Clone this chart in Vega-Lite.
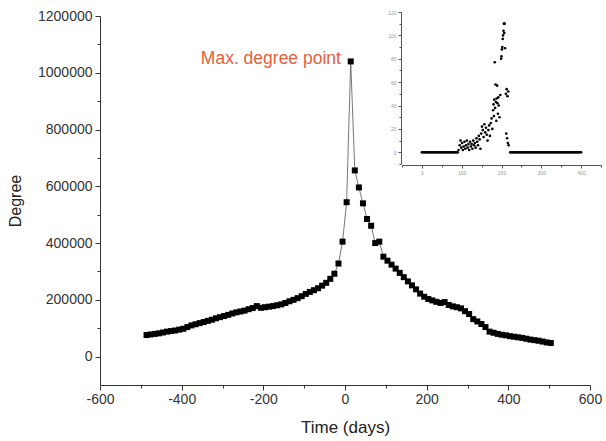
{
  "$schema": "https://vega.github.io/schema/vega-lite/v6.json",
  "width": 490,
  "height": 369,
  "autosize": "none",
  "padding": {"left": 100, "top": 16, "right": 16, "bottom": 56},
  "background": "white",
  "config": {"view": {"stroke": null}, "font": "Liberation Sans"},
  "datasets": {
    "main": [
      {"t": -486, "deg": 76000}, {"t": -476, "deg": 78000}, {"t": -466, "deg": 80000}, {"t": -456, "deg": 82000},
      {"t": -446, "deg": 85000}, {"t": -436, "deg": 88000}, {"t": -426, "deg": 90000}, {"t": -416, "deg": 92000},
      {"t": -406, "deg": 95000}, {"t": -396, "deg": 98000}, {"t": -386, "deg": 104000}, {"t": -376, "deg": 110000},
      {"t": -366, "deg": 114000}, {"t": -356, "deg": 118000}, {"t": -346, "deg": 122000}, {"t": -336, "deg": 126000},
      {"t": -326, "deg": 130000}, {"t": -316, "deg": 135000}, {"t": -306, "deg": 139000}, {"t": -296, "deg": 143000},
      {"t": -286, "deg": 147000}, {"t": -276, "deg": 152000}, {"t": -266, "deg": 156000}, {"t": -256, "deg": 159000},
      {"t": -246, "deg": 162000}, {"t": -236, "deg": 167000}, {"t": -226, "deg": 171000}, {"t": -216, "deg": 178000},
      {"t": -206, "deg": 172000}, {"t": -196, "deg": 174000}, {"t": -186, "deg": 176000}, {"t": -176, "deg": 178000},
      {"t": -166, "deg": 181000}, {"t": -156, "deg": 184000}, {"t": -146, "deg": 189000}, {"t": -136, "deg": 195000},
      {"t": -126, "deg": 200000}, {"t": -116, "deg": 206000}, {"t": -106, "deg": 213000}, {"t": -96, "deg": 221000},
      {"t": -86, "deg": 228000}, {"t": -76, "deg": 234000}, {"t": -66, "deg": 241000}, {"t": -56, "deg": 250000},
      {"t": -46, "deg": 260000}, {"t": -36, "deg": 274000}, {"t": -26, "deg": 292000}, {"t": -16, "deg": 328000},
      {"t": -6, "deg": 405000}, {"t": 4, "deg": 544000}, {"t": 14, "deg": 1040000}, {"t": 24, "deg": 656000},
      {"t": 34, "deg": 596000}, {"t": 44, "deg": 540000}, {"t": 54, "deg": 485000}, {"t": 64, "deg": 461000},
      {"t": 74, "deg": 400000}, {"t": 84, "deg": 405000}, {"t": 94, "deg": 352000}, {"t": 104, "deg": 338000},
      {"t": 114, "deg": 324000}, {"t": 124, "deg": 310000}, {"t": 134, "deg": 295000}, {"t": 144, "deg": 280000},
      {"t": 154, "deg": 265000}, {"t": 164, "deg": 251000}, {"t": 174, "deg": 237000}, {"t": 184, "deg": 222000},
      {"t": 194, "deg": 211000}, {"t": 204, "deg": 203000}, {"t": 214, "deg": 198000}, {"t": 224, "deg": 193000},
      {"t": 234, "deg": 189000}, {"t": 244, "deg": 192000}, {"t": 254, "deg": 182000}, {"t": 264, "deg": 177000},
      {"t": 274, "deg": 174000}, {"t": 284, "deg": 170000}, {"t": 294, "deg": 160000}, {"t": 304, "deg": 150000},
      {"t": 314, "deg": 132000}, {"t": 324, "deg": 124000}, {"t": 334, "deg": 115000}, {"t": 344, "deg": 104000},
      {"t": 354, "deg": 88000}, {"t": 364, "deg": 84000}, {"t": 374, "deg": 80000}, {"t": 384, "deg": 77000},
      {"t": 394, "deg": 75000}, {"t": 404, "deg": 72000}, {"t": 414, "deg": 70000}, {"t": 424, "deg": 68000},
      {"t": 434, "deg": 66000}, {"t": 444, "deg": 63000}, {"t": 454, "deg": 60000}, {"t": 464, "deg": 58000},
      {"t": 474, "deg": 56000}, {"t": 484, "deg": 53000}, {"t": 494, "deg": 50000}, {"t": 504, "deg": 48000}
    ],
    "note": [{"t": -10, "deg": 1050000, "label": "Max. degree point"}],
    "inset": [
      {"day": 0, "v": 0}, {"day": 3, "v": 0}, {"day": 6, "v": 0}, {"day": 9, "v": 0}, {"day": 12, "v": 0},
      {"day": 15, "v": 0}, {"day": 18, "v": 0}, {"day": 21, "v": 0}, {"day": 24, "v": 0}, {"day": 27, "v": 0},
      {"day": 30, "v": 0}, {"day": 33, "v": 0}, {"day": 36, "v": 0}, {"day": 39, "v": 0}, {"day": 42, "v": 0},
      {"day": 45, "v": 0}, {"day": 48, "v": 0}, {"day": 51, "v": 0}, {"day": 54, "v": 0}, {"day": 57, "v": 0},
      {"day": 60, "v": 0}, {"day": 63, "v": 0}, {"day": 66, "v": 0}, {"day": 69, "v": 0}, {"day": 72, "v": 0},
      {"day": 75, "v": 0}, {"day": 78, "v": 0}, {"day": 81, "v": 0}, {"day": 84, "v": 0}, {"day": 87, "v": 0},
      {"day": 90, "v": 0},
      {"day": 92, "v": 2}, {"day": 95, "v": 6}, {"day": 97, "v": 10}, {"day": 99, "v": 4}, {"day": 101, "v": 8},
      {"day": 103, "v": 2}, {"day": 105, "v": 5}, {"day": 107, "v": 9}, {"day": 109, "v": 3}, {"day": 111, "v": 6},
      {"day": 113, "v": 10}, {"day": 115, "v": 4}, {"day": 117, "v": 7}, {"day": 119, "v": 2}, {"day": 121, "v": 9},
      {"day": 123, "v": 5}, {"day": 125, "v": 7}, {"day": 127, "v": 3}, {"day": 129, "v": 10}, {"day": 131, "v": 6},
      {"day": 133, "v": 8}, {"day": 135, "v": 4}, {"day": 137, "v": 12}, {"day": 139, "v": 9}, {"day": 141, "v": 6},
      {"day": 143, "v": 14}, {"day": 145, "v": 11}, {"day": 147, "v": 3}, {"day": 149, "v": 16}, {"day": 151, "v": 22},
      {"day": 153, "v": 19}, {"day": 155, "v": 13}, {"day": 157, "v": 24}, {"day": 159, "v": 17}, {"day": 161, "v": 21},
      {"day": 163, "v": 15}, {"day": 165, "v": 10}, {"day": 167, "v": 19}, {"day": 169, "v": 23}, {"day": 171, "v": 14},
      {"day": 173, "v": 25}, {"day": 175, "v": 29}, {"day": 177, "v": 20}, {"day": 179, "v": 36}, {"day": 180, "v": 41},
      {"day": 181, "v": 31}, {"day": 182, "v": 45}, {"day": 183, "v": 77}, {"day": 184, "v": 38}, {"day": 185, "v": 58},
      {"day": 186, "v": 43}, {"day": 187, "v": 27}, {"day": 188, "v": 46}, {"day": 189, "v": 57}, {"day": 190, "v": 42},
      {"day": 191, "v": 33}, {"day": 192, "v": 47}, {"day": 193, "v": 40}, {"day": 195, "v": 30}, {"day": 197, "v": 49},
      {"day": 199, "v": 80}, {"day": 200, "v": 82}, {"day": 201, "v": 88}, {"day": 202, "v": 90}, {"day": 203, "v": 97},
      {"day": 204, "v": 100}, {"day": 205, "v": 104}, {"day": 206, "v": 110}, {"day": 207, "v": 102}, {"day": 208, "v": 110},
      {"day": 209, "v": 89}, {"day": 211, "v": 50}, {"day": 212, "v": 16}, {"day": 213, "v": 54}, {"day": 214, "v": 12},
      {"day": 215, "v": 48}, {"day": 216, "v": 8}, {"day": 217, "v": 52}, {"day": 218, "v": 6},
      {"day": 222, "v": 0}, {"day": 225, "v": 0}, {"day": 228, "v": 0}, {"day": 231, "v": 0}, {"day": 234, "v": 0},
      {"day": 237, "v": 0}, {"day": 240, "v": 0}, {"day": 243, "v": 0}, {"day": 246, "v": 0}, {"day": 249, "v": 0},
      {"day": 252, "v": 0}, {"day": 255, "v": 0}, {"day": 258, "v": 0}, {"day": 261, "v": 0}, {"day": 264, "v": 0},
      {"day": 267, "v": 0}, {"day": 270, "v": 0}, {"day": 273, "v": 0}, {"day": 276, "v": 0}, {"day": 279, "v": 0},
      {"day": 282, "v": 0}, {"day": 285, "v": 0}, {"day": 288, "v": 0}, {"day": 291, "v": 0}, {"day": 294, "v": 0},
      {"day": 297, "v": 0}, {"day": 300, "v": 0}, {"day": 303, "v": 0}, {"day": 306, "v": 0}, {"day": 309, "v": 0},
      {"day": 312, "v": 0}, {"day": 315, "v": 0}, {"day": 318, "v": 0}, {"day": 321, "v": 0}, {"day": 324, "v": 0},
      {"day": 327, "v": 0}, {"day": 330, "v": 0}, {"day": 333, "v": 0}, {"day": 336, "v": 0}, {"day": 339, "v": 0},
      {"day": 342, "v": 0}, {"day": 345, "v": 0}, {"day": 348, "v": 0}, {"day": 351, "v": 0}, {"day": 354, "v": 0},
      {"day": 357, "v": 0}, {"day": 360, "v": 0}, {"day": 363, "v": 0}, {"day": 366, "v": 0}, {"day": 369, "v": 0},
      {"day": 372, "v": 0}, {"day": 375, "v": 0}, {"day": 378, "v": 0}, {"day": 381, "v": 0}, {"day": 384, "v": 0},
      {"day": 387, "v": 0}, {"day": 390, "v": 0}, {"day": 393, "v": 0}, {"day": 396, "v": 0}, {"day": 400, "v": 0}
    ]
  },
  "layer": [
    {
      "layer": [
        {
          "data": {"name": "main"},
          "mark": {"type": "line", "color": "#555555", "strokeWidth": 0.8},
          "encoding": {
            "x": {
              "field": "t", "type": "quantitative", "title": "Time (days)",
              "scale": {"domain": [-600, 600], "nice": false, "zero": false},
              "axis": {
                "values": [-600, -500, -400, -300, -200, -100, 0, 100, 200, 300, 400, 500, 600],
                "labelExpr": "abs(datum.value / 200 - round(datum.value / 200)) < 0.01 ? '' + datum.value : ''",
                "tickSize": {"condition": {"test": "abs(datum.value / 200 - round(datum.value / 200)) < 0.01", "value": 5}, "value": 3},
                "grid": false, "domainColor": "#333333", "tickColor": "#333333",
                "labelColor": "#333333", "labelFontSize": 14, "labelPadding": 2,
                "labelFlush": false, "labelOverlap": false,
                "titleFontSize": 17, "titleFontWeight": "normal", "titleColor": "#222222", "titlePadding": 13
              }
            },
            "y": {
              "field": "deg", "type": "quantitative", "title": "Degree",
              "scale": {"domain": [-100000, 1200000], "nice": false, "zero": false},
              "axis": {
                "values": [0, 200000, 400000, 600000, 800000, 1000000, 1200000],
                "format": "d",
                "tickSize": 5,
                "grid": false, "domainColor": "#333333", "tickColor": "#333333",
                "labelColor": "#333333", "labelFontSize": 14, "labelPadding": 3,
                "labelFlush": false, "labelOverlap": false,
                "titleFontSize": 16, "titleFontWeight": "normal", "titleColor": "#222222", "titlePadding": 14
              }
            }
          }
        },
        {
          "data": {"name": "main"},
          "mark": {"type": "point", "shape": "square", "filled": true, "color": "#000000", "size": 36, "opacity": 1},
          "encoding": {
            "x": {"field": "t", "type": "quantitative", "title": "Time (days)"},
            "y": {"field": "deg", "type": "quantitative", "title": "Degree"}
          }
        },
        {
          "data": {"name": "note"},
          "mark": {"type": "text", "align": "right", "baseline": "middle", "color": "#e8603c", "fontSize": 17.5},
          "encoding": {
            "x": {"field": "t", "type": "quantitative", "title": "Time (days)"},
            "y": {"field": "deg", "type": "quantitative", "title": "Degree"},
            "text": {"field": "label"}
          }
        }
      ]
    },
    {
      "data": {"name": "note"},
      "mark": {"type": "point", "opacity": 0},
      "encoding": {
        "x": {"field": "t", "type": "quantitative", "axis": null, "scale": {"domain": [-600, 600], "nice": false, "zero": false}},
        "y": {
          "field": "deg", "type": "quantitative",
          "scale": {"domain": [-100000, 1200000], "nice": false, "zero": false},
          "axis": {
            "orient": "left", "title": null, "domain": false, "labels": false, "grid": false,
            "values": [100000, 300000, 500000, 700000, 900000, 1100000],
            "tickSize": 3, "tickColor": "#333333"
          }
        }
      }
    },
    {
      "data": {"name": "inset"},
      "mark": {"type": "circle", "color": "#000000", "size": 7, "opacity": 1},
      "encoding": {
        "x": {
          "field": "day", "type": "quantitative",
          "scale": {"domain": [-50, 450], "range": [302, 501], "nice": false, "zero": false},
          "axis": {
            "orient": "bottom", "offset": -220, "title": null,
            "values": [-50, 0, 50, 100, 150, 200, 250, 300, 350, 400, 450],
            "labelExpr": "abs(datum.value / 100 - round(datum.value / 100)) < 0.01 && datum.value >= 0 && datum.value <= 400 ? '' + datum.value : ''",
            "tickSize": {"condition": {"test": "abs(datum.value / 100 - round(datum.value / 100)) < 0.01", "value": 3}, "value": 2},
            "grid": false, "domainColor": "#555555", "tickColor": "#555555",
            "labelColor": "#999999", "labelFontSize": 5, "labelPadding": 2,
            "labelFlush": false, "labelOverlap": false
          }
        },
        "y": {
          "field": "v", "type": "quantitative",
          "scale": {"domain": [-10, 120], "range": [148, -4], "nice": false, "zero": false},
          "axis": {
            "orient": "left", "offset": -301, "title": null,
            "values": [-10, 0, 10, 20, 30, 40, 50, 60, 70, 80, 90, 100, 110, 120],
            "labelExpr": "abs(datum.value / 20 - round(datum.value / 20)) < 0.01 && datum.value >= 0 ? '' + datum.value : ''",
            "tickSize": {"condition": {"test": "abs(datum.value / 20 - round(datum.value / 20)) < 0.01", "value": 3}, "value": 2},
            "grid": false, "domainColor": "#555555", "tickColor": "#555555",
            "labelColor": "#999999", "labelFontSize": 5, "labelPadding": 2,
            "labelFlush": false, "labelOverlap": false
          }
        }
      }
    }
  ],
  "resolve": {"scale": {"x": "independent", "y": "independent"}, "axis": {"x": "independent", "y": "independent"}}
}
